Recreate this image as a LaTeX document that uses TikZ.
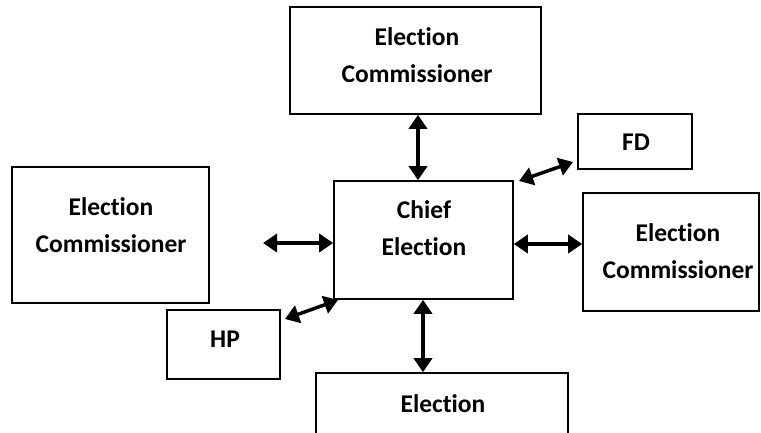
\documentclass[tikz,border=0pt]{standalone}
\usepackage{fontspec}
\setmainfont{Carlito}[Ligatures={NoCommon}]
\usetikzlibrary{arrows.meta}
\begin{document}
\begin{tikzpicture}[x=1pt,y=-1pt,
  box/.style={draw, line width=1.6pt, inner sep=0pt},
  lbl/.style={font=\bfseries\fontsize{25.5}{37}\selectfont, align=center, anchor=base, inner sep=0pt},
  tip/.tip={Triangle[length=14pt,width=18pt]},
  dbl/.style={tip-tip, line width=3.5pt}]
  \useasboundingbox (0,0) rectangle (761,432);
  \clip (0,0) rectangle (761,432);
  \fill[white] (0,0) rectangle (761,432);

  % boxes
  \node[box, minimum width=251pt, minimum height=107pt] (top)    at (415.5,60.5) {};
  \node[box, minimum width=114pt, minimum height=55pt]  (fd)     at (635,141.5) {};
  \node[box, minimum width=179pt, minimum height=118pt] (chief)  at (423.5,240) {};
  \node[box, minimum width=176pt, minimum height=118pt] (right)  at (671,252) {};
  \node[box, minimum width=197pt, minimum height=136pt] (left)   at (110.5,235) {};
  \node[box, minimum width=113pt, minimum height=69pt]  (hp)     at (223.5,344.5) {};
  \node[box, minimum width=252pt, minimum height=72pt]  (bottom) at (442,409) {};

  % labels (anchored at the baseline of their last line)
  \node[lbl] (topT)    at (417,82)  {Election\\Commissioner};
  \node[lbl] (fdT)     at (636,150) {FD};
  \node[lbl] (chiefT)  at (424,255) {Chief\\Election};
  \node[lbl] (rightT)  at (678,278) {Election\\Commissioner};
  \node[lbl] (leftT)   at (111,252) {Election\\Commissioner};
  \node[lbl] (hpT)     at (225,347) {HP};
  \node[lbl] (bottomT) at (443,412) {Election};

  % free ends of the connectors
  \coordinate (tx) at (418,0);
  \coordinate (bx) at (423,0);
  \coordinate (ly) at (0,243);
  \coordinate (ry) at (0,244);
  \coordinate (leftEnd) at (263,243);
  \coordinate (fdA) at (519,181);
  \coordinate (fdB) at (573,162);
  \coordinate (hpA) at (338,300);
  \coordinate (hpB) at (285,319);

  % connectors
  \draw[dbl] (top.south -| tx) -- (chief.north -| tx);
  \draw[dbl] (fdA) -- (fdB);
  \draw[dbl] (leftEnd) -- (chief.west |- ly);
  \draw[dbl] (chief.east |- ry) -- (right.west |- ry);
  \draw[dbl] (hpA) -- (hpB);
  \draw[dbl] (chief.south -| bx) -- (bottom.north -| bx);
\end{tikzpicture}
\end{document}
